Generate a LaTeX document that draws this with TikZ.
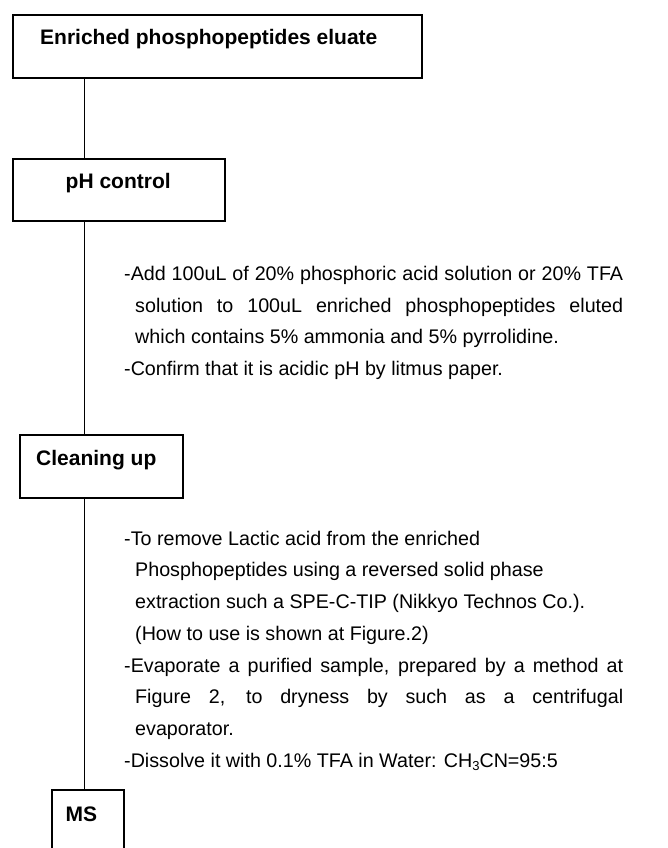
\documentclass[tikz,border=0pt]{standalone}
\usepackage{fontspec}
\setmainfont{Liberation Sans}
\begin{document}
\begin{tikzpicture}[x=1pt,y=-1pt,
  box/.style={draw, line width=1.8pt, inner sep=0pt, anchor=north west},
  lbl/.style={font=\bfseries\fontsize{21}{25}\selectfont, inner sep=0pt, anchor=base west},
  txt/.style={font=\fontsize{19.7}{24}\selectfont, inner sep=0pt, anchor=base west},
  link/.style={line width=1.5pt}]
\useasboundingbox (0,0) rectangle (667,848);
\clip (0,0) rectangle (667,848);
\coordinate (spine) at (84.5,0);

% step boxes
\node[box, minimum width=409pt, minimum height=63pt] (b1) at (12,14) {};
\node[box, minimum width=212pt, minimum height=62pt] (b2) at (12,158) {};
\node[box, minimum width=163pt, minimum height=63pt] (b3) at (19,434) {};
\node[box, minimum width=72pt,  minimum height=63pt] (b4) at (51,789) {};

% step labels
\node[lbl] (l1) at (40,45) {Enriched phosphopeptides eluate};
\node[lbl] (l2) at (65.5,188) {pH control};
\node[lbl] (l3) at (36,465) {Cleaning up};
\node[lbl] (l4) at (65.5,821) {MS};

% vertical flow line
\draw[link] (b1.south -| spine) -- (b2.north -| spine);
\draw[link] (b2.south -| spine) -- (b3.north -| spine);
\draw[link] (b3.south -| spine) -- (b4.north -| spine);

% notes for pH control
\node[txt] (n1a) at (124,280) {\makebox[499pt][s]{-Add 100uL of 20\% phosphoric acid solution or 20\% TFA}};
\node[txt] (n1b) at (135,312) {\makebox[488pt][s]{solution to 100uL enriched phosphopeptides eluted}};
\node[txt] (n1c) at (135,343.5) {which contains 5\% ammonia and 5\% pyrrolidine.};
\node[txt] (n1d) at (124,375) {-Confirm that it is acidic pH by litmus paper.};

% notes for cleaning up
\node[txt] (n2a) at (124,545) {-To remove Lactic acid from the enriched};
\node[txt] (n2b) at (135,576.8) {Phosphopeptides using a reversed solid phase};
\node[txt] (n2c) at (135,608.5) {extraction such a SPE-C-TIP (Nikkyo Technos Co.).};
\node[txt] (n2d) at (135,640.3) {(How to use is shown at Figure.2)};
\node[txt] (n2e) at (124,672) {\makebox[499pt][s]{-Evaporate a purified sample, prepared by a method at}};
\node[txt] (n2f) at (135,703.8) {\makebox[488pt][s]{Figure 2, to dryness by such as a centrifugal}};
\node[txt] (n2g) at (135,735.5) {evaporator.};
\node[txt] (n2h) at (124,767.3) {-Dissolve it with 0.1\% TFA in Water: CH{\fontsize{13}{15}\selectfont\raisebox{-3pt}{3}}CN=95:5};
\end{tikzpicture}
\end{document}
